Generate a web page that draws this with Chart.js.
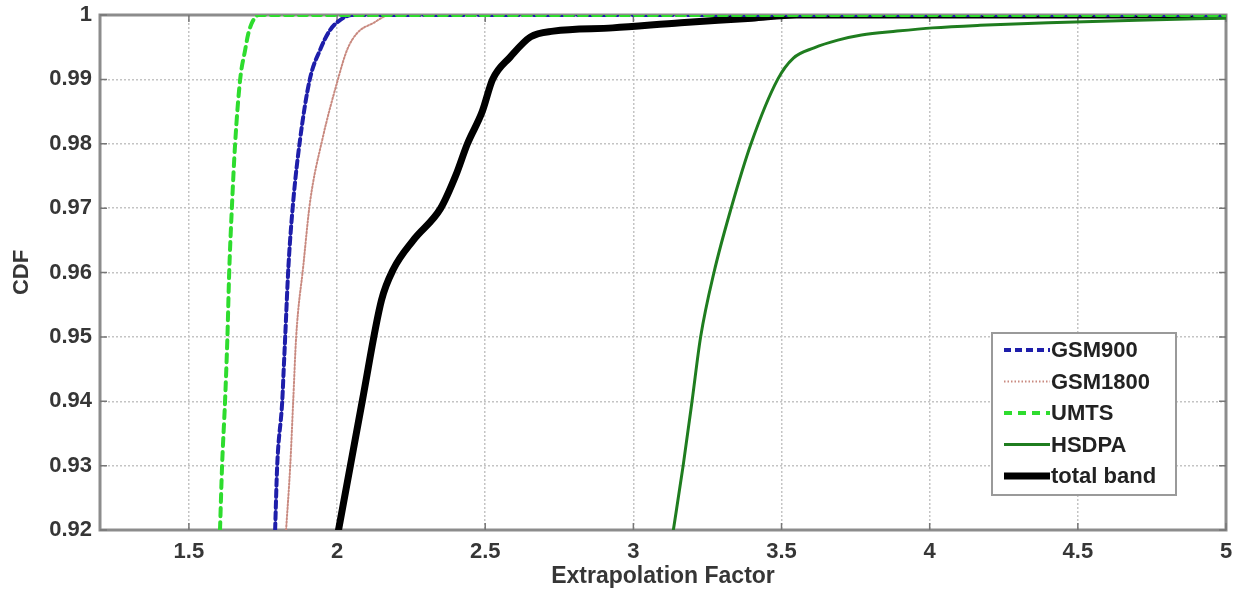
<!DOCTYPE html>
<html>
<head>
<meta charset="utf-8">
<script src="https://cdn.jsdelivr.net/npm/chart.js@4/dist/chart.umd.min.js"></script>
<style>
  html, body { margin: 0; padding: 0; background: #fff; }
  #wrap { width: 1234px; height: 590px; }
</style>
</head>
<body>
<div id="wrap"><canvas id="cdfChart" width="1234" height="590"></canvas></div>
<script>
// valores (CDF del factor de extrapolacion)
const gsm900X  = [1.791, 1.798, 1.815, 1.820, 1.825, 1.836, 1.852, 1.875, 1.908, 1.943, 1.977, 2.010, 2.050, 5.0];
const gsm900Y  = [0.92, 0.93, 0.94, 0.945, 0.95, 0.961, 0.971, 0.9806, 0.99, 0.9946, 0.9977, 0.9992, 1.0, 1.0];

const gsm1800X = [1.828, 1.842, 1.852, 1.862, 1.886, 1.909, 1.950, 2.003, 2.034, 2.068, 2.120, 2.180, 5.0];
const gsm1800Y = [0.92, 0.93, 0.94, 0.95, 0.961, 0.971, 0.9806, 0.99, 0.9946, 0.9972, 0.9987, 1.0, 1.0];

const umtsX    = [1.605, 1.612, 1.622, 1.630, 1.636, 1.645, 1.656, 1.673, 1.690, 1.700, 1.715, 1.735, 5.0];
const umtsY    = [0.92, 0.93, 0.94, 0.95, 0.96, 0.97, 0.98, 0.99, 0.9946, 0.997, 0.999, 1.0, 1.0];

const hsdpaX   = [3.135, 3.168, 3.198, 3.227, 3.272, 3.330, 3.397, 3.487, 3.540, 3.610, 3.690, 3.770, 3.890, 4.010, 4.170, 4.400, 4.700, 5.0];
const hsdpaY   = [0.92, 0.93, 0.94, 0.95, 0.96, 0.97, 0.98, 0.99, 0.9933, 0.9949, 0.9961, 0.9969, 0.9975, 0.998, 0.9984, 0.9988, 0.9992, 0.9995];

const totalX   = [2.005, 2.045, 2.085, 2.150, 2.190, 2.257, 2.350, 2.400, 2.440, 2.490, 2.525, 2.585, 2.653, 2.730, 2.930, 3.160, 3.400, 3.550, 5.0];
const totalY   = [0.92, 0.93, 0.94, 0.9557, 0.9605, 0.965, 0.97, 0.975, 0.98, 0.985, 0.99, 0.9935, 0.9966, 0.9975, 0.998, 0.9988, 0.9995, 1.0, 1.0];

const xTicks = [1.5, 2, 2.5, 3, 3.5, 4, 4.5, 5];
const yTicks = [0.92, 0.93, 0.94, 0.95, 0.96, 0.97, 0.98, 0.99, 1];

const toPts = (xs, ys) => xs.map((x, i) => ({ x: x, y: ys[i] }));

const fontFam = "'Liberation Sans', Arial, sans-serif";
const textCol = '#363636';

// marco, marcas de escala y leyenda al estilo matlab
const matlabFrame = {
    id: 'matlabFrame',
    beforeDatasetsDraw(chart) {
        const { ctx, chartArea: a, scales } = chart;
        ctx.save();
        ctx.strokeStyle = '#8c8c8c';
        ctx.lineWidth = 3;
        ctx.strokeRect(a.left, a.top, a.right - a.left, a.bottom - a.top);
        ctx.lineWidth = 1.5;
        ctx.strokeStyle = '#777';
        ctx.beginPath();
        scales.x.ticks.forEach(t => {
            const px = scales.x.getPixelForValue(t.value);
            ctx.moveTo(px, a.bottom); ctx.lineTo(px, a.bottom - 7);
            ctx.moveTo(px, a.top); ctx.lineTo(px, a.top + 7);
        });
        scales.y.ticks.forEach(t => {
            const py = scales.y.getPixelForValue(t.value);
            ctx.moveTo(a.left, py); ctx.lineTo(a.left + 7, py);
            ctx.moveTo(a.right, py); ctx.lineTo(a.right - 7, py);
        });
        ctx.stroke();
        ctx.restore();
    },
    afterDatasetsDraw(chart) {
        const { ctx, chartArea: a } = chart;
        const w = 184, h = 162, rowH = 31.5;
        const x0 = a.right - 50 - w, y0 = a.bottom - 35 - h;
        ctx.save();
        ctx.fillStyle = '#fff';
        ctx.fillRect(x0, y0, w, h);
        ctx.strokeStyle = '#9a9a9a';
        ctx.lineWidth = 2;
        ctx.strokeRect(x0, y0, w, h);
        ctx.font = 'bold 22px ' + fontFam;
        ctx.textBaseline = 'middle';
        ctx.textAlign = 'left';
        chart.data.datasets.forEach((ds, i) => {
            const yy = y0 + 17 + i * rowH;
            ctx.beginPath();
            ctx.strokeStyle = ds.borderColor;
            ctx.lineWidth = ds.borderWidth;
            ctx.setLineDash(ds.borderDash || []);
            ctx.moveTo(x0 + 12, yy);
            ctx.lineTo(x0 + 58, yy);
            ctx.stroke();
            ctx.setLineDash([]);
            ctx.fillStyle = '#222';
            ctx.fillText(ds.label, x0 + 59, yy + 1);
        });
        ctx.restore();
    }
};

const ctx = document.getElementById('cdfChart').getContext('2d');
new Chart(ctx, {
    type: 'line',
    data: {
        datasets: [
            {
                label: 'GSM900',
                data: toPts(gsm900X, gsm900Y),
                borderColor: '#1e1eaa',
                borderWidth: 4,
                borderDash: [7, 4],
                order: 2
            },
            {
                label: 'GSM1800',
                data: toPts(gsm1800X, gsm1800Y),
                borderColor: '#c98a80',
                borderWidth: 2,
                borderDash: [1.5, 2],
                order: 3
            },
            {
                label: 'UMTS',
                data: toPts(umtsX, umtsY),
                borderColor: '#2edc2e',
                borderWidth: 4,
                borderDash: [8, 6],
                order: 0
            },
            {
                label: 'HSDPA',
                data: toPts(hsdpaX, hsdpaY),
                borderColor: '#1f7d1f',
                borderWidth: 3,
                order: 1
            },
            {
                label: 'total band',
                data: toPts(totalX, totalY),
                borderColor: '#000',
                borderWidth: 7,
                order: 4
            }
        ]
    },
    options: {
        responsive: false,
        animation: false,
        elements: {
            point: { radius: 0 },
            line: { cubicInterpolationMode: 'monotone', fill: false, borderCapStyle: 'round' }
        },
        layout: { padding: { top: 15, right: 8, left: 0, bottom: 0 } },
        plugins: {
            legend: { display: false },
            tooltip: { enabled: false }
        },
        scales: {
            x: {
                type: 'linear',
                min: 1.2,
                max: 5,
                afterBuildTicks: s => { s.ticks = xTicks.map(v => ({ value: v })); },
                afterFit: s => { s.height = 60; s.paddingLeft = 0; s.paddingRight = 0; },
                grid: { color: '#c4c4c4', lineWidth: 1.5, drawTicks: false },
                border: { display: false, dash: [2, 2] },
                ticks: {
                    padding: 9,
                    color: textCol,
                    font: { family: fontFam, size: 22, weight: 'bold' },
                    callback: v => String(v)
                },
                title: {
                    display: true,
                    text: 'Extrapolation Factor',
                    color: textCol,
                    padding: 0,
                    font: { family: fontFam, size: 23, weight: 'bold' }
                }
            },
            y: {
                type: 'linear',
                min: 0.92,
                max: 1,
                afterBuildTicks: s => { s.ticks = yTicks.map(v => ({ value: v })); },
                afterFit: s => { s.width = 100; s.paddingTop = 0; s.paddingBottom = 0; },
                grid: { color: '#c4c4c4', lineWidth: 1.5, drawTicks: false },
                border: { display: false, dash: [2, 2] },
                ticks: {
                    padding: 8,
                    color: textCol,
                    font: { family: fontFam, size: 22, weight: 'bold' },
                    callback: v => String(v)
                },
                title: {
                    display: true,
                    text: 'CDF',
                    color: textCol,
                    padding: 9,
                    font: { family: fontFam, size: 22, weight: 'bold' }
                }
            }
        }
    },
    plugins: [matlabFrame]
});
</script>
</body>
</html>
